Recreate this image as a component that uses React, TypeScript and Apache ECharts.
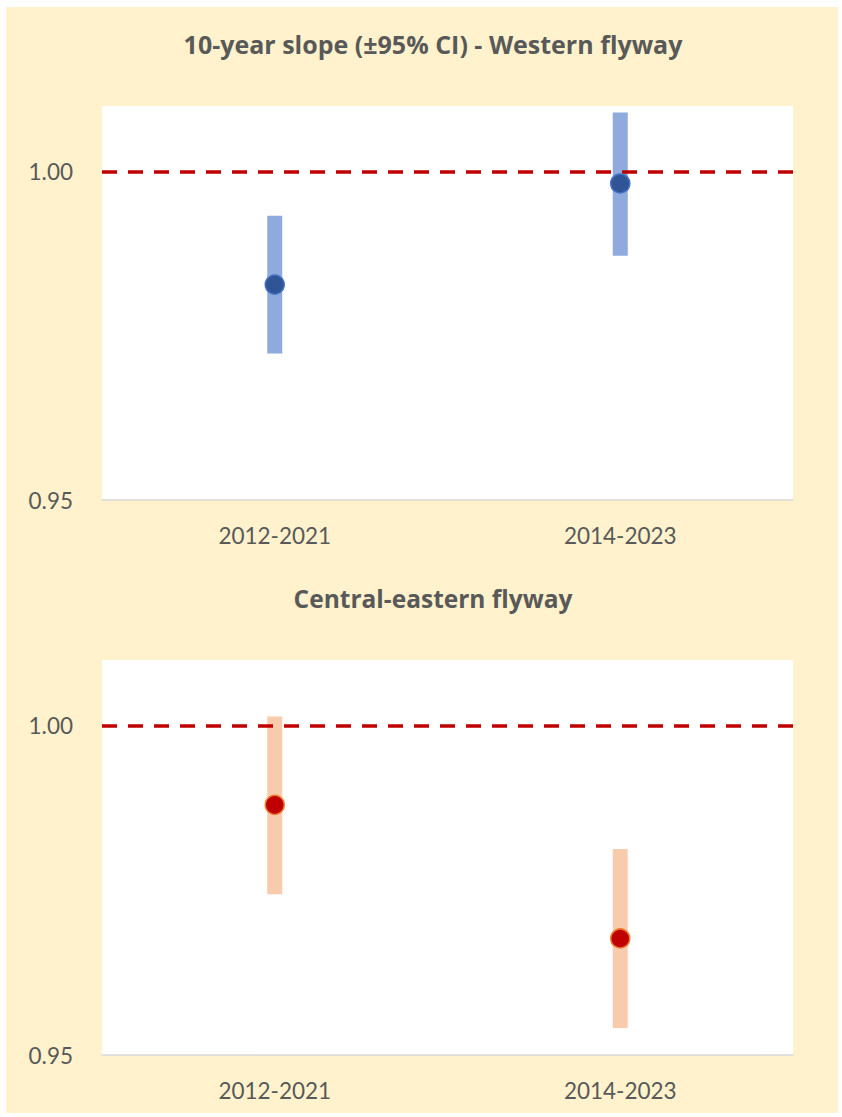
import React, { useEffect, useRef } from "react";
import * as echarts from "echarts";

const categories = ["2012-2021", "2014-2023"];
const yTickLabels = [0.95, 1.0];
const referenceValue = 1.0;

const westernTitle = "10-year slope (±95% CI) - Western flyway";
const westernEstimate = [0.9828, 0.9982];
const westernLower = [0.9723, 0.9872];
const westernUpper = [0.9933, 1.009];

const easternTitle = "Central-eastern flyway";
const easternEstimate = [0.988, 0.9677];
const easternLower = [0.9744, 0.9541];
const easternUpper = [1.0014, 0.9813];

const FONT = "Lato";
const TITLE_FONT = "Open Sans";
const TEXT = "#595959";

export default function App() {
  const ref = useRef<HTMLDivElement>(null);
  useEffect(() => {
    if (!ref.current) return;
    const chart = echarts.init(ref.current, null, { renderer: "svg" });

    const ciRender = (color: string) => (params: any, api: any) => {
      const x = api.value(0);
      const lo = api.coord([x, api.value(1)]);
      const hi = api.coord([x, api.value(2)]);
      return {
        type: "rect",
        shape: { x: lo[0] - 7.5, y: hi[1], width: 15, height: lo[1] - hi[1] },
        style: { fill: color },
      };
    };

    const grids = [
      { left: 102, right: 49, top: 106, height: 394 },
      { left: 102, right: 49, top: 660, height: 395 },
    ];

    const xAxis = grids.map((_, i) => ({
      type: "category",
      gridIndex: i,
      data: categories,
      axisLine: { show: true, lineStyle: { color: "#D9D9D9", width: 1.5 } },
      axisTick: { show: false },
      axisLabel: { color: TEXT, fontFamily: FONT, fontSize: 22.5, margin: 24 },
      splitLine: { show: false },
    }));

    const yAxis = grids.map((_, i) => ({
      type: "value",
      gridIndex: i,
      min: 0.95,
      max: 1.01,
      interval: 0.05,
      axisLine: { show: false },
      axisTick: { show: false },
      splitLine: { show: false },
      axisLabel: {
        color: TEXT,
        fontFamily: FONT,
        fontSize: 22.5,
        margin: 29,
        formatter: (v: number) =>
          yTickLabels.some((t) => Math.abs(t - v) < 1e-6) ? v.toFixed(2) : "",
      },
    }));

    const panels = [
      { est: westernEstimate, lo: westernLower, hi: westernUpper, bar: "#8FAADC", dot: "#2F5597", border: "#4472C4" },
      { est: easternEstimate, lo: easternLower, hi: easternUpper, bar: "#F8CBAD", dot: "#C00000", border: "#ED7D31" },
    ];

    const series: any[] = [];
    panels.forEach((p, i) => {
      series.push({
        type: "custom",
        xAxisIndex: i,
        yAxisIndex: i,
        renderItem: ciRender(p.bar),
        data: categories.map((_, k) => [k, p.lo[k], p.hi[k]]),
        z: 2,
      });
      series.push({
        type: "scatter",
        xAxisIndex: i,
        yAxisIndex: i,
        symbol: "circle",
        symbolSize: 19,
        itemStyle: { color: p.dot, borderColor: p.border, borderWidth: 1.5, opacity: 1 },
        data: categories.map((_, k) => [k, p.est[k]]),
        z: 4,
        markLine: {
          silent: true,
          symbol: "none",
          label: { show: false },
          lineStyle: { color: "#C00000", width: 3.5, type: [15, 11] },
          data: [{ yAxis: referenceValue }],
          z: 3,
        },
      });
    });

    chart.setOption({
      animation: false,
      backgroundColor: "#FFFFFF",
      graphic: [
        {
          type: "rect",
          z: -10,
          shape: { x: 6, y: 7, width: 832, height: 1106 },
          style: { fill: "#FFF2CC" },
        },
      ],
      title: [
        {
          text: westernTitle,
          left: 428,
          top: 26,
          textAlign: "center",
          textStyle: { fontFamily: TITLE_FONT, fontWeight: "bold", fontSize: 25, color: TEXT },
        },
        {
          text: easternTitle,
          left: 428,
          top: 581,
          textAlign: "center",
          textStyle: { fontFamily: TITLE_FONT, fontWeight: "bold", fontSize: 24.5, color: TEXT },
        },
      ],
      grid: grids.map((g) => ({ ...g, show: true, backgroundColor: "#FFFFFF", borderWidth: 0 })),
      xAxis,
      yAxis,
      series,
    });
    return () => chart.dispose();
  }, []);
  return (
    <div
      ref={ref}
      style={{ position: "absolute", left: 0, top: 0, width: 842, height: 1117 }}
    />
  );
}
